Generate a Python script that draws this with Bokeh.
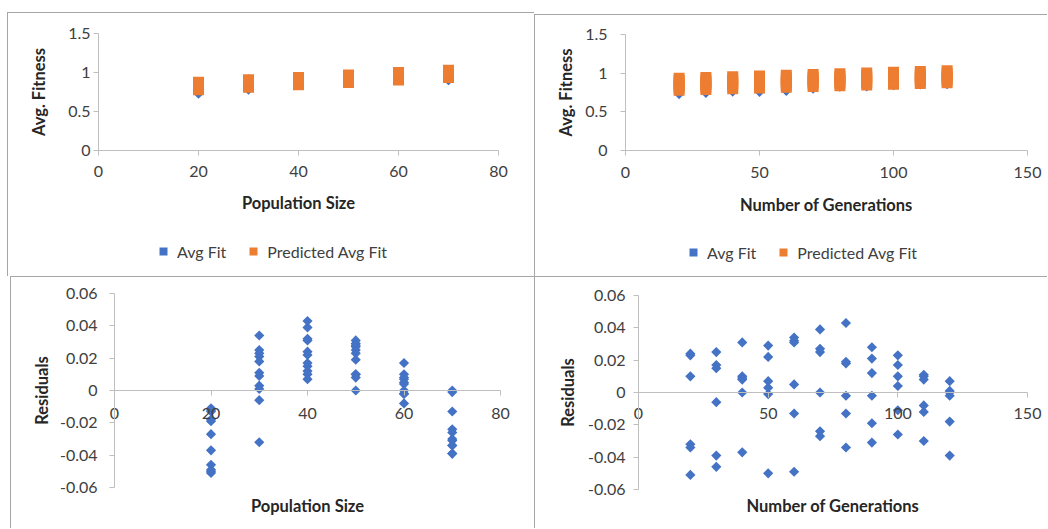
import numpy as np
from bokeh.plotting import figure
from bokeh.layouts import column, row
from bokeh.models import (Range1d, LinearAxis, FixedTicker, CustomJSTickFormatter,
                          Legend, LegendItem, ColumnDataSource, Spacer)
from bokeh.embed import file_html
from bokeh.resources import INLINE

# ---------------- data ----------------
POP_SIZES = [20, 30, 40, 50, 60, 70]
GENERATIONS = [20, 30, 40, 50, 60, 70, 80, 90, 100, 110, 120]

# predicted average fitness, one row per population size, one column per generation count
PREDICTED_FIT = [
    [0.780, 0.790, 0.799, 0.809, 0.818, 0.828, 0.837, 0.847, 0.856, 0.866, 0.875],
    [0.811, 0.821, 0.830, 0.840, 0.849, 0.859, 0.868, 0.878, 0.887, 0.897, 0.906],
    [0.842, 0.852, 0.861, 0.871, 0.880, 0.890, 0.899, 0.909, 0.918, 0.928, 0.937],
    [0.873, 0.883, 0.892, 0.902, 0.911, 0.921, 0.930, 0.940, 0.949, 0.959, 0.968],
    [0.904, 0.914, 0.923, 0.933, 0.942, 0.952, 0.961, 0.971, 0.980, 0.990, 0.999],
    [0.935, 0.945, 0.954, 0.964, 0.973, 0.983, 0.992, 1.002, 1.011, 1.021, 1.030],
]

# residuals (observed - predicted), same layout
RESIDUALS = [
    [-0.051, -0.046, -0.037, -0.050, -0.049, -0.027, -0.013, -0.019, -0.011, -0.012, -0.018],
    [-0.032, -0.006, 0.009, 0.003, 0.034, 0.025, 0.018, 0.021, 0.023, 0.011, 0.001],
    [0.024, 0.015, 0.031, 0.022, 0.032, 0.039, 0.043, 0.012, 0.017, 0.010, 0.007],
    [0.023, 0.025, 0.010, 0.029, 0.031, 0.027, 0.019, 0.028, 0.010, 0.008, 0.000],
    [0.010, 0.017, 0.008, 0.007, 0.005, 0.000, -0.002, -0.002, 0.004, -0.008, -0.002],
    [-0.034, -0.039, 0.000, -0.001, -0.013, -0.024, -0.034, -0.031, -0.026, -0.030, -0.039],
]

FIT_TICKS = [0, 0.5, 1, 1.5]
RES_TICKS = [-0.06, -0.04, -0.02, 0, 0.02, 0.04, 0.06]
POP_TICKS = [0, 20, 40, 60, 80]
GEN_TICKS = [0, 50, 100, 150]

# ---------------- flatten ----------------
pop_col, gen_col, pred_col, res_col = [], [], [], []
for i, pop in enumerate(POP_SIZES):
    for j, gen in enumerate(GENERATIONS):
        pop_col.append(pop)
        gen_col.append(gen)
        pred_col.append(PREDICTED_FIT[i][j])
        res_col.append(RESIDUALS[i][j])
pred_arr = np.array(pred_col)
res_arr = np.array(res_col)
fit_arr = pred_arr + res_arr  # observed average fitness

src = ColumnDataSource(dict(pop=pop_col, gen=gen_col, pred=pred_arr, res=res_arr, fit=fit_arr))

# ---------------- styling ----------------
FONT = "Lato"
BLUE = "#4472C4"
ORANGE = "#ED7D31"
AXIS_GREY = "#BFBFBF"
TICK_TXT = "#404040"
TITLE_TXT = "#262626"
BORDER = "#A6A6A6"
FMT = CustomJSTickFormatter(code="return (Math.round(tick*1000)/1000).toString();")


def value_range(v0, p0, v1, p1, lo_px, hi_px):
    """values at pixel positions lo_px / hi_px for a linear map v0->p0, v1->p1"""
    k = (p1 - p0) / (v1 - v0)
    return v0 + (lo_px - p0) / k, v0 + (hi_px - p0) / k


def base_fig(box, xmap, ymap):
    # box = (left, top, right, bottom) page pixels of the chart area
    L, T, R, B = box
    xr = value_range(*xmap, L, R)
    yr = value_range(*ymap, B, T)
    p = figure(width=R - L, height=B - T, x_range=Range1d(*xr), y_range=Range1d(*yr),
               output_backend="svg", toolbar_location=None,
               x_axis_location=None, y_axis_location=None,
               min_border=0, min_border_left=0, min_border_right=0,
               min_border_top=0, min_border_bottom=0)
    p.grid.visible = False
    p.outline_line_color = None
    p.background_fill_color = None
    p.border_fill_color = None
    p.styles = {"box-shadow": f"inset 1px 1px 0 0 {BORDER}"}
    return p


def style_axis(ax, standoff, title_standoff):
    ax.formatter = FMT
    ax.axis_line_color = AXIS_GREY
    ax.major_tick_line_color = AXIS_GREY
    ax.major_tick_in = 0
    ax.major_tick_out = 5
    ax.minor_tick_line_color = None
    ax.minor_tick_out = 0
    ax.major_label_standoff = standoff
    ax.major_label_text_font = FONT
    ax.major_label_text_font_size = "16px"
    ax.major_label_text_color = TICK_TXT
    ax.axis_label_standoff = title_standoff
    ax.axis_label_text_font = FONT
    ax.axis_label_text_font_style = "bold"
    ax.axis_label_text_font_size = "16.5px"
    ax.axis_label_text_color = TITLE_TXT
    return ax


def fit_panel(box, xmap, ymap, xcol, xticks, xtitle, y_std, y_tstd, x_std, x_tstd, leg_loc):
    p = base_fig(box, xmap, ymap)
    xmax = xticks[-1]
    ya = style_axis(LinearAxis(ticker=FixedTicker(ticks=FIT_TICKS), axis_label="Avg. Fitness",
                               fixed_location=0, bounds=(0, 1.5)), y_std, y_tstd)
    xa = style_axis(LinearAxis(ticker=FixedTicker(ticks=xticks), axis_label=xtitle,
                               fixed_location=0, bounds=(0, xmax)), x_std, x_tstd)
    p.add_layout(ya, "left")
    p.add_layout(xa, "below")
    r1 = p.scatter(xcol, "fit", source=src, marker="square", angle=np.pi / 4, size=7.2,
                   fill_color=BLUE, line_color=None)
    r2 = p.scatter(xcol, "pred", source=src, marker="square", size=11,
                   fill_color=ORANGE, line_color=None)
    leg = Legend(items=[LegendItem(label="Avg Fit", renderers=[r1]),
                        LegendItem(label="Predicted Avg Fit", renderers=[r2])],
                 orientation="horizontal", location=leg_loc,
                 padding=0, margin=0, spacing=17, label_standoff=4,
                 glyph_width=20, glyph_height=20,
                 border_line_color=None, background_fill_alpha=0,
                 label_text_font=FONT, label_text_font_size="16px",
                 label_text_color=TICK_TXT)
    p.add_layout(leg)
    return p


def res_panel(box, xmap, ymap, xcol, xticks, xtitle, y_std, y_tstd, x_std, x_tstd):
    p = base_fig(box, xmap, ymap)
    xmax = xticks[-1]
    ya = style_axis(LinearAxis(ticker=FixedTicker(ticks=RES_TICKS), axis_label="Residuals",
                               fixed_location=0, bounds=(-0.06, 0.06)), y_std, y_tstd)
    p.add_layout(ya, "left")
    xa = style_axis(LinearAxis(ticker=FixedTicker(ticks=xticks), fixed_location=0,
                               bounds=(0, xmax)), x_std, 0)
    p.add_layout(xa, "below")
    ta = style_axis(LinearAxis(ticker=FixedTicker(ticks=[]), axis_label=xtitle,
                               fixed_location=-0.06, bounds=(0, xmax)), 0, x_tstd)
    ta.axis_line_color = None
    ta.major_tick_out = 0
    p.add_layout(ta, "below")
    p.scatter(xcol, "res", source=src, marker="square", angle=np.pi / 4, size=7.2,
              fill_color=BLUE, line_color=None)
    return p


# chart-area boxes (left, top, right, bottom) and value->pixel anchors
p_tl = fit_panel((7, 12, 534, 276), (0, 98, 80, 498), (0, 150, 1.5, 33),
                 "pop", POP_TICKS, "Population Size", 3, 16, 10, 13, (146, 15))
p_tr = fit_panel((534, 14, 1047, 276), (0, 625, 150, 1027), (0, 150, 1.5, 34),
                 "gen", GEN_TICKS, "Number of Generations", 13, 6, 11, 14, (149, 14))
p_bl = res_panel((10, 276, 534, 528), (0, 114, 80, 500), (-0.06, 487, 0.06, 293),
                 "pop", POP_TICKS, "Population Size", 12, 5, 12, 8)
p_br = res_panel((534, 276, 1047, 528), (0, 638, 150, 1027), (-0.06, 489, 0.06, 295),
                 "gen", GEN_TICKS, "Number of Generations", 8, 7, 10, 6)

top = row(column(Spacer(height=12, width=534), row(Spacer(width=7, height=264), p_tl)),
          column(Spacer(height=14, width=513), p_tr))
bottom = row(Spacer(width=10, height=252), p_bl, p_br)
layout = column(top, bottom)

open("out.html", "w").write(file_html(layout, INLINE))
